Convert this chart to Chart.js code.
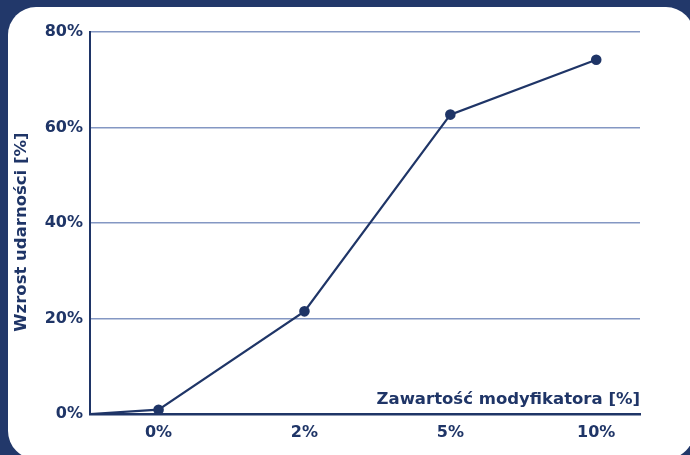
<!DOCTYPE html>
<html>
<head>
<meta charset="utf-8">
<script src="https://cdn.jsdelivr.net/npm/chart.js@4"></script>
<style>
    html, body { margin: 0; padding: 0; }
    body { width: 690px; height: 455px; background: #22386a; position: relative; overflow: hidden; }
    .card { position: absolute; left: 8px; top: 7px; width: 686px; height: 452px; background: #fff; border-radius: 28px; }
    #wrap { position: absolute; left: 0; top: 0; width: 690px; height: 455px; }
</style>
</head>
<body>
<div class="card"></div>
<div id="wrap"><canvas id="impactChart" width="690" height="455"></canvas></div>
<script>
// dane wykresu
const categories = ['0%', '2%', '5%', '10%'];
const impactGain = [0.9, 21.5, 62.7, 74.2];
const yTicks = [0, 20, 40, 60, 80];

const xTitle = 'Zawartość modyfikatora [%]';
const yTitle = 'Wzrost udarności [%]';

const navy = '#1f3567';
const gridBlue = '#8497c3';
const fontFamily = '"DejaVu Sans", sans-serif';

// oś X: kategorie na pozycjach 0..3, linia startuje z początku osi
const xMin = -0.47;
const xMax = 3.3;

const points = [{ x: xMin, y: 0 }].concat(
    impactGain.map((v, i) => ({ x: i, y: v }))
);

// tytuły osi rysowane wewnątrz karty
const axisTitles = {
    id: 'axisTitles',
    afterDraw(chart) {
        const { ctx, chartArea } = chart;
        ctx.save();
        ctx.fillStyle = navy;
        ctx.font = 'bold 16.5px ' + fontFamily;
        ctx.textAlign = 'right';
        ctx.textBaseline = 'alphabetic';
        ctx.fillText(xTitle, chartArea.right, chartArea.bottom - 10);

        ctx.translate(22, 232);
        ctx.rotate(-Math.PI / 2);
        ctx.textAlign = 'center';
        ctx.textBaseline = 'middle';
        ctx.fillText(yTitle, 0, 0);
        ctx.restore();
    }
};

const ctx = document.getElementById('impactChart');

new Chart(ctx, {
    type: 'line',
    data: {
        datasets: [{
            label: yTitle,
            data: points,
            borderColor: navy,
            backgroundColor: navy,
            borderWidth: 2.2,
            pointRadius: points.map((p, i) => i === 0 ? 0 : 4.2),
            pointHoverRadius: 5,
            tension: 0
        }]
    },
    options: {
        responsive: false,
        animation: false,
        layout: {
            padding: { left: 0, top: 32, right: 50, bottom: 0 }
        },
        plugins: {
            legend: { display: false },
            tooltip: { enabled: false }
        },
        scales: {
            x: {
                type: 'linear',
                min: xMin,
                max: xMax,
                afterBuildTicks: (scale) => {
                    scale.ticks = categories.map((c, i) => ({ value: i }));
                },
                afterFit: (scale) => { scale.height = 41; },
                grid: { display: false, drawTicks: false },
                border: { display: true, color: navy, width: 2.5 },
                ticks: {
                    padding: 9,
                    color: navy,
                    font: { family: fontFamily, size: 16, weight: 'bold' },
                    callback: (v) => categories[v]
                }
            },
            y: {
                min: 0,
                max: 80,
                afterBuildTicks: (scale) => {
                    scale.ticks = yTicks.map(v => ({ value: v }));
                },
                afterFit: (scale) => { scale.width = 90; },
                grid: {
                    drawTicks: false,
                    lineWidth: 1.5,
                    color: (c) => c.tick && c.tick.value === 0 ? 'rgba(0,0,0,0)' : gridBlue
                },
                border: { display: true, color: navy, width: 2 },
                ticks: {
                    padding: 7,
                    color: navy,
                    font: { family: fontFamily, size: 16, weight: 'bold' },
                    callback: (v) => v + '%'
                }
            }
        }
    },
    plugins: [axisTitles]
});
</script>
</body>
</html>
